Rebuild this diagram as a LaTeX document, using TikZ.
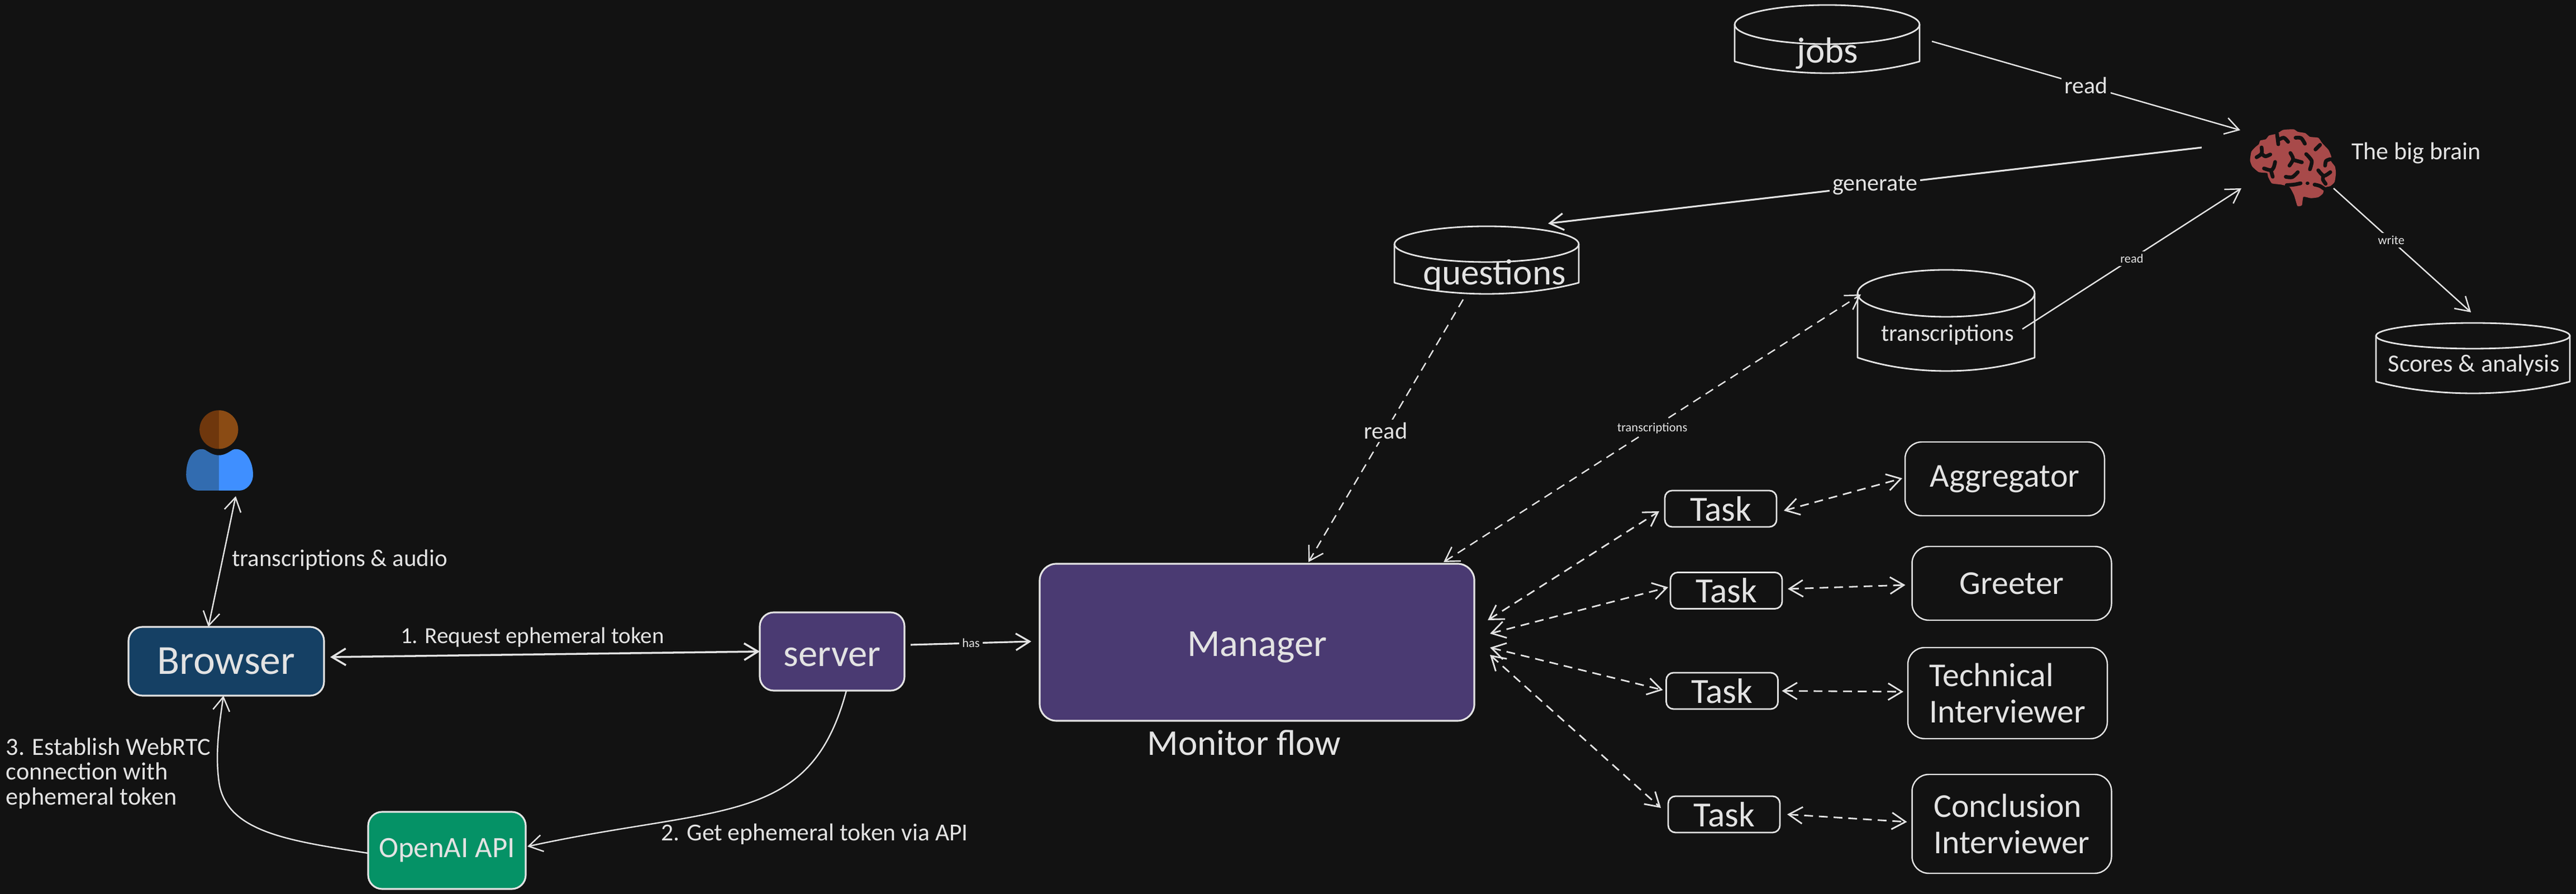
\documentclass[tikz,border=0pt]{standalone}
\usepackage{fontspec}
\setmainfont{Carlito}
\usetikzlibrary{arrows.meta}

\definecolor{canvas}{HTML}{121212}
\definecolor{ink}{HTML}{E3E3E3}
\definecolor{navyfill}{HTML}{154064}
\definecolor{violetfill}{HTML}{4A3A72}
\definecolor{greenfill}{HTML}{059266}
\definecolor{brainred}{HTML}{A84A4A}
\definecolor{headdark}{HTML}{6F370D}
\definecolor{headlight}{HTML}{8A4B14}
\definecolor{bodydark}{HTML}{326CB0}
\definecolor{bodylight}{HTML}{3F8FFF}

\tikzset{
	tip/.style={arrows={-{Straight Barb[length=7pt,width=8.5pt]}}},
	dbltip/.style={arrows={{Straight Barb[length=7pt,width=8.5pt]}-{Straight Barb[length=7pt,width=8.5pt]}}},
	link/.style={draw=ink, line width=0.7pt},
	dashlink/.style={link, dash pattern=on 4.5pt off 3pt},
	flowbox/.style={draw=ink, line width=0.9pt, rounded corners=0.3cm, inner sep=0pt, outer sep=0pt, text=ink, align=center},
	taskbox/.style={flowbox, line width=0.8pt, rounded corners=0.13cm, minimum width=2cm, minimum height=0.65cm, font=\fontsize{18}{20}\selectfont},
	agentbox/.style={flowbox, line width=0.7pt, minimum width=3.57cm, font=\fontsize{17}{18.6}\selectfont},
	lbl/.style={text=ink, inner sep=0pt, font=\fontsize{12}{14}\selectfont},
	lblgap/.style={lbl, fill=canvas, inner sep=1.5pt},
	tiny/.style={text=ink, fill=canvas, inner sep=1.5pt, font=\fontsize{6.4}{8}\selectfont},
	icon/.style={inner sep=0pt, outer sep=0pt},
	sulcus/.style={draw=canvas, line width=1.9pt, line cap=round, line join=round},
}

\begin{document}
\begin{tikzpicture}
	\useasboundingbox (0, 0) rectangle (46.11, 16);
	\fill[canvas] (0, 0) rectangle (46.11, 16);

	%boxes on the left
	\node[flowbox, fill=navyfill, rounded corners=0.25cm, minimum width=3.5cm, minimum height=1.23cm, font=\fontsize{21}{24}\selectfont] (browser) at (4.05, 4.165) {Browser};
	\node[flowbox, fill=violetfill, rounded corners=0.25cm, minimum width=2.59cm, minimum height=1.4cm, text height=15pt, font=\fontsize{19.5}{24}\selectfont] (server) at (14.895, 4.34) {server};
	\node[flowbox, fill=greenfill, rounded corners=0.25cm, minimum width=2.82cm, minimum height=1.38cm, font=\fontsize{15}{18}\selectfont] (openai) at (8.0, 0.78) {OpenAI API};
	\node[flowbox, fill=violetfill, minimum width=7.78cm, minimum height=2.81cm, text height=17.5pt, font=\fontsize{19.5}{24}\selectfont] (manager) at (22.5, 4.505) {Manager};
	\node[lbl, font=\fontsize{18.5}{22}\selectfont] (monitor) at (22.27, 2.71) {Monitor flow};

	%tasks
	\node[taskbox] (taskA) at (30.80, 6.895) {Task};
	\node[taskbox] (taskB) at (30.90, 5.43) {Task};
	\node[taskbox] (taskC) at (30.825, 3.635) {Task};
	\node[taskbox] (taskD) at (30.86, 1.425) {Task};
	\node[agentbox, minimum height=1.32cm] (aggregator) at (35.885, 7.43) {Aggregator};
	\node[agentbox, minimum height=1.32cm] (greeter) at (36.01, 5.56) {Greeter};
	\node[agentbox, minimum height=1.63cm, align=left] (technical) at (35.935, 3.595) {Technical\\Interviewer};
	\node[agentbox, minimum height=1.77cm, align=left] (conclusion) at (36.01, 1.255) {Conclusion\\Interviewer};

	%stores, \cname/left/right/top/middle/side/bottom
	\foreach \cname/\xa/\xb/\yt/\ym/\ys/\yb in {
			jobs/31.05/34.36/15.91/15.56/14.90/14.69,
			questions/24.96/28.26/11.95/11.63/10.94/10.74,
			transcriptions/33.25/36.42/11.17/10.75/9.60/9.36,
			scores/42.53/46.00/10.22/9.99/9.17/8.96} {
		\pgfmathsetmacro{\cmid}{(\xa+\xb)/2}
		\pgfmathsetmacro{\crx}{(\xb-\xa)/2}
		\pgfmathsetmacro{\cry}{\yt-\ym}
		\pgfmathsetmacro{\cw}{\xb-\xa}
		\pgfmathsetmacro{\ch}{\yt-\yb}
		\pgfmathsetmacro{\cy}{(\yt+\yb)/2}
		\pgfmathsetmacro{\cdip}{\yb-(\ys-\yb)/3}
		\node[icon, minimum width=\cw cm, minimum height=\ch cm] (\cname) at (\cmid, \cy) {};
		\draw[ink, line width=0.8pt] (\cmid, \ym) ellipse[x radius=\crx, y radius=\cry];
		\draw[ink, line width=0.8pt, line join=round] (\xa, \ym) -- (\xa, \ys)
				.. controls (\xa+0.3*\cw, \cdip) and (\xb-0.3*\cw, \cdip) .. (\xb, \ys) -- (\xb, \ym);
	}
	\node[lbl, font=\fontsize{18.5}{20}\selectfont] (jobstext) at (32.71, 15.04) {jobs};
	\node[lbl, font=\fontsize{18.5}{20}\selectfont] (questionstext) at (26.75, 11.08) {questions};
	\node[lbl, font=\fontsize{12.1}{14}\selectfont] (transcriptionstext) at (34.86, 10.01) {transcriptions};
	\node[lbl, font=\fontsize{12.6}{14}\selectfont] (scorestext) at (44.28, 9.46) {Scores \& analysis};
	\node[lbl, font=\fontsize{12.5}{14}\selectfont] (braintext) at (43.25, 13.26) {The big brain};

	%person
	\node[icon, minimum width=1.2cm, minimum height=1.44cm] (person) at (3.93, 7.94) {};
	\begin{scope}[shift={(2.8, 9)}, x=0.003333cm, y=-0.003333cm]
		\fill[headdark] (336, 103) arc[start angle=-90, end angle=-270, radius=104];
		\fill[headlight] (336, 103) arc[start angle=-90, end angle=90, radius=104];
		\fill[bodydark] (336, 345) .. controls (305, 345) and (285, 330) .. (262, 316)
			.. controls (250, 310) and (235, 312) .. (225, 315)
			.. controls (180, 330) and (160, 390) .. (160, 450)
			.. controls (160, 500) and (190, 535) .. (225, 535) -- (336, 535) -- cycle;
		\fill[bodylight] (336, 345) .. controls (367, 345) and (387, 330) .. (410, 316)
			.. controls (422, 310) and (437, 312) .. (447, 315)
			.. controls (492, 330) and (520, 390) .. (520, 450)
			.. controls (520, 500) and (482, 535) .. (447, 535) -- (336, 535) -- cycle;
	\end{scope}

	%brain
	\node[icon, minimum width=1.54cm, minimum height=1.37cm] (brain) at (41.05, 13.005) {};
	\begin{scope}[shift={(39.5, 14)}, x=0.003333cm, y=-0.003333cm]
		\fill[brainred] plot[smooth cycle, tension=0.3] coordinates {
			(240,215) (262,190) (280,175) (288,155) (318,148) (335,128) (370,120) (390,110) (410,98) (440,95) (470,95)
			(490,108) (530,115) (555,135) (600,140) (622,170) (655,205) (670,240) (668,265) (690,295) (695,330)
			(688,378) (665,400) (635,408) (625,440) (600,460) (560,465) (520,458) (512,503) (488,507) (470,450)
			(445,405) (400,392) (350,385) (330,350) (325,330) (280,325) (245,295) (233,262)};
		\draw[sulcus] plot[smooth] coordinates {(378,118) (385,175)};
		\draw[sulcus] plot[smooth] coordinates {(388,150) (415,140) (438,162)};
		\draw[sulcus] plot[smooth] coordinates {(478,140) (508,142) (528,172)};
		\draw[sulcus] plot[smooth] coordinates {(585,203) (610,178)};
		\draw[sulcus] plot[smooth] coordinates {(295,192) (295,225) (268,245)};
		\draw[sulcus] plot[smooth] coordinates {(295,225) (315,240) (342,230)};
		\draw[sulcus] plot[smooth] coordinates {(450,222) (465,255) (445,290)};
		\draw[sulcus] plot[smooth] coordinates {(468,260) (512,272)};
		\draw[sulcus] plot[smooth] coordinates {(535,228) (565,265) (555,310)};
		\draw[sulcus] plot[smooth] coordinates {(665,255) (642,265) (637,290)};
		\draw[sulcus] plot[smooth] coordinates {(600,315) (630,345) (665,325)};
		\draw[sulcus] plot[smooth] coordinates {(628,345) (625,365) (640,388)};
		\draw[sulcus] plot[smooth] coordinates {(368,270) (360,300) (345,315) (308,305)};
		\draw[sulcus] plot[smooth] coordinates {(345,315) (355,350)};
		\draw[sulcus] plot[smooth] coordinates {(425,350) (460,352) (490,325)};
		\draw[sulcus] plot[smooth] coordinates {(430,395) (470,392) (505,385)};
		\draw[sulcus] (542,385) -- (542.5,385);
		\draw[sulcus] plot[smooth] coordinates {(580,392) (610,400) (640,420)};
	\end{scope}

	%left side links
	\draw[link, dbltip] ([shift={(0.29, -0.10)}]person.south) -- ([shift={(-0.32, 0)}]browser.north);
	\node[lbl, font=\fontsize{12.2}{14}\selectfont] (audiotext) at (6.08, 5.98) {transcriptions \& audio};
	\draw[link, dbltip, line width=1pt] ([shift={(0.11, 0.075)}]browser.east) -- (server.west);
	\node[lbl, font=\fontsize{11.7}{14}\selectfont] (requesttext) at (9.53, 4.59) {1. Request ephemeral token};
	\draw[link, tip, line width=0.9pt] ([shift={(0.11, 0.12)}]server.east) -- node[tiny] (hastext) {has} ([shift={(-0.15, 0.015)}]manager.west);
	\draw[link, tip] ([shift={(0.255, 0)}]server.south) .. controls (14.5, 1.20) and (12.9, 1.60) .. ([shift={(0.03, 0.07)}]openai.east);
	\node[lbl, font=\fontsize{12.4}{14}\selectfont] (gettext) at (14.58, 1.07) {2. Get ephemeral token via API};
	\draw[link, tip] ([shift={(0, -0.05)}]openai.west) .. controls (5.2, 0.95) and (4.05, 1.10) .. (3.92, 2.0)
			.. controls (3.85, 2.5) and (3.92, 3.0) .. ([shift={(-0.05, 0)}]browser.south);
	\node[lbl, align=left, anchor=west, font=\fontsize{12.6}{12.6}\selectfont] (webrtctext) at (0.10, 2.16) {3. Establish WebRTC\\connection with\\ephemeral token};

	%stores and brain
	\draw[link, tip] ([shift={(0.22, -0.04)}]jobs.east) -- node[lblgap] (readjobs) {read} ([shift={(-0.18, 0.665)}]brain.west);
	\draw[link, tip, line width=0.9pt] ([shift={(-0.87, 0.355)}]brain.west) -- node[lblgap] (generatetext) {generate} ([shift={(1.10, 0.05)}]questions.north);
	\draw[link, tip] ([shift={(-0.22, -0.155)}]transcriptions.east) -- node[tiny] (readtranscriptions) {read} ([shift={(-0.16, -0.375)}]brain.west);
	\draw[link, tip] ([shift={(-0.05, -0.375)}]brain.east) -- node[tiny, pos=0.42] (writetext) {write} ([shift={(-0.035, 0.19)}]scores.north);
	\draw[dashlink, tip] ([shift={(-0.42, -0.10)}]questions.south) -- node[lblgap] (readquestions) {read} ([shift={(0.92, 0.03)}]manager.north);
	\draw[dashlink, dbltip] ([shift={(3.34, 0.03)}]manager.north) -- node[tiny] (transcriptionslink) {transcriptions} ([shift={(0.06, 0.465)}]transcriptions.west);

	%manager to tasks
	\foreach \ptask/\dxa/\dya/\dxb/\dyb in {taskA/0.24/0.395/-0.10/-0.045, taskB/0.28/0.155/-0.04/0.06, taskC/0.28/-0.095/-0.06/0.015, taskD/0.28/-0.225/-0.13/0.115}
		\draw[dashlink, dbltip, line width=0.8pt] ([shift={(\dxa, \dya)}]manager.east) -- ([shift={(\dxb, \dyb)}]\ptask.west);

	%tasks to agents
	\foreach \ptask/\pagent/\dxa/\dya/\dxb/\dyb in {taskA/aggregator/0.13/-0.035/-0.05/0.01, taskB/greeter/0.10/0.03/-0.12/-0.03, taskC/technical/0.07/0/-0.08/0.025, taskD/conclusion/0.13/0/-0.09/0.035}
		\draw[dashlink, dbltip, line width=0.8pt] ([shift={(\dxa, \dya)}]\ptask.east) -- ([shift={(\dxb, \dyb)}]\pagent.west);
\end{tikzpicture}
\end{document}
